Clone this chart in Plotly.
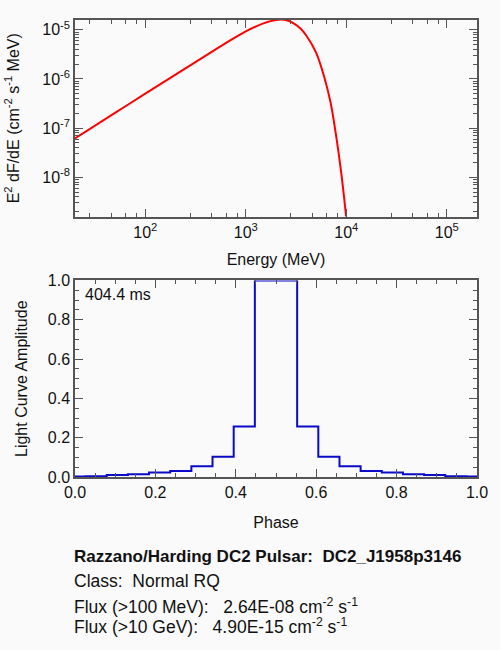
import plotly.graph_objects as go
from plotly.subplots import make_subplots

# ---- Spectrum (top panel) ----
energy_mev = [20, 50, 100, 200, 400, 700, 1000, 1500, 2000, 2300, 2700, 3000,
              3500, 4000, 5000, 6000, 7000, 8000, 9000, 10000]
e2_dfde = [6.17e-8, 2.04e-7, 5.01e-7, 1.22e-6, 2.99e-6, 6.10e-6, 9.33e-6, 1.35e-5,
           1.58e-5, 1.62e-5, 1.51e-5, 1.35e-5, 1.06e-5, 7.67e-6, 3.47e-6, 1.15e-6,
           3.24e-7, 6.17e-8, 1.05e-8, 1.5e-9]

x_tick_vals = [1e2, 1e3, 1e4, 1e5]
x_tick_text = ["10<sup>2</sup>", "10<sup>3</sup>", "10<sup>4</sup>", "10<sup>5</sup>"]
y_tick_vals = [1e-8, 1e-7, 1e-6, 1e-5]
y_tick_text = ["10<sup>-8</sup>", "10<sup>-7</sup>", "10<sup>-6</sup>", "10<sup>-5</sup>"]
x_minor_vals = [28, 46, 64, 82, 280, 460, 640, 820, 2800, 4600, 6400, 8200,
                28000, 46000, 64000, 82000]

# ---- Light curve (bottom panel) ----
phase = [0.0, 0.0526, 0.1053, 0.1579, 0.2105, 0.2632, 0.3158, 0.3684, 0.4211, 0.4737,
         0.5263, 0.5789, 0.6316, 0.6842, 0.7368, 0.7895, 0.8421, 0.8947, 0.9474, 1.0]
amplitude = [0.003, 0.004, 0.010, 0.014, 0.023, 0.031, 0.055, 0.103, 0.257, 1.0,
             1.0, 0.257, 0.103, 0.055, 0.031, 0.023, 0.014, 0.010, 0.004, 0.003]

period_label = "404.4 ms"
info_lines = [
    "<b>Razzano/Harding DC2 Pulsar:\u00a0\u00a0DC2_J1958p3146</b>",
    "Class:\u00a0\u00a0Normal RQ",
    "Flux (&gt;100 MeV):\u00a0\u00a0\u00a02.64E-08 cm<sup>-2</sup> s<sup>-1</sup>",
    "Flux (&gt;10 GeV):\u00a0\u00a0\u00a04.90E-15 cm<sup>-2</sup> s<sup>-1</sup>",
]
info_sizes = [17, 17.5, 17.5, 17.5]
info_y_px = [557.5, 582.5, 608, 629]

W, H = 500, 650
ML, MR, MT, MB = 70, 15, 12, 173
PH = H - MT - MB

fig = make_subplots(rows=2, cols=1)

fig.add_trace(go.Scatter(x=energy_mev, y=e2_dfde, mode="lines",
                         line=dict(color="#ff0000", width=2, shape="spline", smoothing=0.8),
                         showlegend=False, hoverinfo="skip"), row=1, col=1)
fig.add_trace(go.Scatter(x=phase, y=amplitude, mode="lines",
                         line=dict(color="#0a0ac8", width=2, shape="hvh"),
                         showlegend=False, hoverinfo="skip"), row=2, col=1)

frame = "#555555"
font = "Liberation Sans, Arial, Helvetica, sans-serif"
common = dict(showline=True, linecolor=frame, linewidth=1.5, mirror="allticks",
              ticks="inside", ticklen=8, tickwidth=1.2, tickcolor=frame,
              showgrid=False, zeroline=False,
              tickfont=dict(size=16, color="#111111", family=font))

fig.update_layout(
    width=W, height=H,
    margin=dict(l=ML, r=MR, t=MT, b=MB),
    paper_bgcolor="#fafafa", plot_bgcolor="#fafafa",
    font=dict(family=font, size=16, color="#111111"),
    xaxis=dict(type="log", range=[1.30103, 5.30103], domain=[0, 1],
               tickvals=x_tick_vals, ticktext=x_tick_text,
               minor=dict(tickvals=x_minor_vals, ticks="inside", ticklen=4,
                          tickcolor=frame, tickwidth=1),
               title=dict(text="Energy (MeV)", font=dict(size=16), standoff=14),
               **common),
    yaxis=dict(type="log", range=[-8.8, -4.8], domain=[1 - 200 / PH, 1],
               tickvals=y_tick_vals, ticktext=y_tick_text,
               minor=dict(dtick="D1", ticks="inside", ticklen=4,
                          tickcolor=frame, tickwidth=1),
               title=dict(text="E<sup>2</sup> dF/dE (cm<sup>-2</sup> s<sup>-1</sup> MeV)",
                          font=dict(size=16), standoff=19),
               **common),
    xaxis2=dict(range=[0, 1], dtick=0.2, tickformat=".1f", domain=[0, 1],
                minor=dict(dtick=0.05, ticks="inside", ticklen=4,
                           tickcolor=frame, tickwidth=1),
                title=dict(text="Phase", font=dict(size=16), standoff=17),
                **common),
    yaxis2=dict(range=[0, 1], dtick=0.2, tickformat=".1f", domain=[0, 200 / PH],
                minor=dict(dtick=0.05, ticks="inside", ticklen=4,
                           tickcolor=frame, tickwidth=1),
                title=dict(text="Light Curve Amplitude", font=dict(size=16), standoff=16),
                **common),
)

fig.add_annotation(text=period_label, xref="x2 domain", yref="y2 domain",
                   x=8 / 415, y=1 - 14 / 200, xanchor="left", yanchor="middle",
                   showarrow=False, font=dict(size=16, family=font, color="#111111"))

for line, size, ypx in zip(info_lines, info_sizes, info_y_px):
    fig.add_annotation(text=line, xref="paper", yref="paper",
                       x=-3 / 415, y=(H - MB - ypx) / PH,
                       xanchor="left", yanchor="middle",
                       showarrow=False, align="left",
                       font=dict(size=size, family=font, color="#111111"))

fig.write_html("out.html",
               config={"displayModeBar": False},
               post_script="document.body.style.margin='0';"
                           "document.body.style.overflow='hidden';"
                           "document.body.style.background='#fafafa';")
